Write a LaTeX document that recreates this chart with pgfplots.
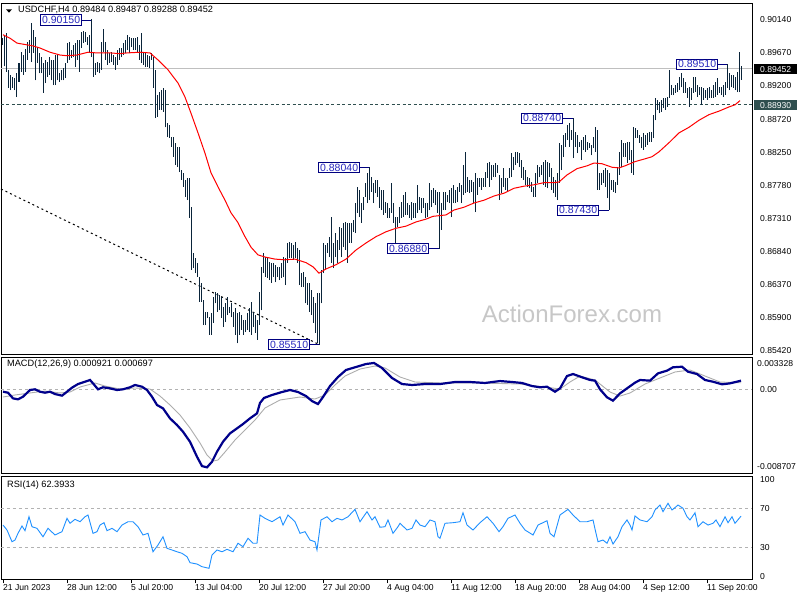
\documentclass[border=0pt]{standalone}
\usepackage{pgfplots}
\usepackage{pgfplotstable}
\usepackage{fontspec}
\setmainfont{Liberation Sans}
\pgfplotsset{compat=1.18}

\definecolor{barc}{RGB}{10,36,58}
\definecolor{lblnavy}{RGB}{0,0,128}
\definecolor{lbltext}{RGB}{40,40,190}
\definecolor{slate}{RGB}{47,79,79}
\definecolor{macdblue}{RGB}{0,0,139}
\definecolor{rsiblue}{RGB}{30,144,255}

% H4 bars: low / high, one row per bar
\pgfplotstableread{
l h
0.8978 0.8988
0.8948 0.8993
0.8940 0.8995
0.8917 0.8943
0.8914 0.8936
0.8917 0.8933
0.8914 0.8931
0.8904 0.8938
0.8926 0.8953
0.8940 0.8968
0.8936 0.8964
0.8940 0.8973
0.8957 0.8983
0.8967 0.8985
0.8954 0.9010
0.8967 0.9000
0.8928 0.8990
0.8953 0.8976
0.8938 0.8967
0.8938 0.8961
0.8910 0.8953
0.8924 0.8957
0.8933 0.8954
0.8936 0.8961
0.8928 0.8957
0.8921 0.8957
0.8921 0.8964
0.8928 0.8964
0.8926 0.8938
0.8928 0.8943
0.8928 0.8946
0.8931 0.8953
0.8953 0.8981
0.8957 0.8983
0.8960 0.8971
0.8961 0.8978
0.8947 0.8981
0.8957 0.8985
0.8940 0.8985
0.8974 0.8997
0.8981 0.8998
0.8983 0.8997
0.8978 0.8990
0.8968 0.8993
0.8961 0.9015
0.8933 0.8968
0.8936 0.8953
0.8940 0.8954
0.8938 0.8953
0.8943 0.8983
0.8968 0.9001
0.8957 0.8983
0.8950 0.8971
0.8953 0.8967
0.8954 0.8968
0.8950 0.8964
0.8943 0.8961
0.8950 0.8971
0.8957 0.8974
0.8961 0.8974
0.8964 0.8981
0.8967 0.8985
0.8971 0.8993
0.8967 0.8990
0.8976 0.8988
0.8971 0.8988
0.8971 0.8988
0.8967 0.8990
0.8957 0.8978
0.8953 0.8995
0.8950 0.8967
0.8947 0.8967
0.8947 0.8964
0.8946 0.8963
0.8957 0.8967
0.8917 0.8961
0.8874 0.8943
0.8876 0.8907
0.8886 0.8911
0.8886 0.8914
0.8883 0.8917
0.8861 0.8914
0.8847 0.8867
0.8846 0.8864
0.8833 0.8847
0.8819 0.8847
0.8807 0.8839
0.8804 0.8833
0.8797 0.8833
0.8786 0.8800
0.8776 0.8796
0.8762 0.8786
0.8757 0.8789
0.8732 0.8789
0.8658 0.8747
0.8660 0.8682
0.8653 0.8675
0.8648 0.8668
0.8612 0.8648
0.8612 0.8639
0.8579 0.8615
0.8579 0.8598
0.8589 0.8598
0.8565 0.8590
0.8565 0.8596
0.8582 0.8619
0.8610 0.8626
0.8598 0.8625
0.8600 0.8622
0.8589 0.8619
0.8576 0.8605
0.8583 0.8610
0.8593 0.8619
0.8596 0.8605
0.8590 0.8610
0.8576 0.8598
0.8565 0.8603
0.8553 0.8596
0.8565 0.8598
0.8572 0.8593
0.8565 0.8586
0.8569 0.8586
0.8572 0.8596
0.8569 0.8603
0.8565 0.8612
0.8576 0.8598
0.8568 0.8593
0.8558 0.8586
0.8579 0.8626
0.8600 0.8662
0.8653 0.8682
0.8648 0.8676
0.8646 0.8675
0.8643 0.8669
0.8639 0.8668
0.8648 0.8668
0.8640 0.8665
0.8648 0.8662
0.8643 0.8662
0.8646 0.8668
0.8648 0.8676
0.8636 0.8675
0.8668 0.8696
0.8675 0.8697
0.8675 0.8696
0.8672 0.8693
0.8675 0.8697
0.8668 0.8689
0.8636 0.8686
0.8633 0.8653
0.8633 0.8655
0.8610 0.8648
0.8608 0.8639
0.8598 0.8639
0.8593 0.8629
0.8582 0.8619
0.8568 0.8610
0.8553 0.8625
0.8551 0.8625
0.8610 0.8658
0.8653 0.8696
0.8658 0.8693
0.8682 0.8696
0.8676 0.8705
0.8668 0.8733
0.8660 0.8696
0.8676 0.8710
0.8668 0.8700
0.8686 0.8719
0.8676 0.8717
0.8690 0.8725
0.8686 0.8726
0.8668 0.8725
0.8696 0.8725
0.8696 0.8725
0.8712 0.8729
0.8710 0.8753
0.8739 0.8776
0.8733 0.8772
0.8725 0.8753
0.8743 0.8762
0.8762 0.8782
0.8753 0.8796
0.8757 0.8804
0.8769 0.8790
0.8753 0.8782
0.8767 0.8786
0.8762 0.8786
0.8746 0.8776
0.8743 0.8772
0.8736 0.8772
0.8739 0.8754
0.8732 0.8753
0.8732 0.8746
0.8739 0.8782
0.8725 0.8753
0.8696 0.8733
0.8719 0.8733
0.8725 0.8747
0.8732 0.8754
0.8733 0.8765
0.8736 0.8769
0.8736 0.8753
0.8732 0.8750
0.8729 0.8754
0.8732 0.8753
0.8732 0.8753
0.8739 0.8779
0.8743 0.8762
0.8739 0.8760
0.8746 0.8760
0.8732 0.8753
0.8733 0.8753
0.8743 0.8782
0.8747 0.8772
0.8753 0.8774
0.8750 0.8772
0.8739 0.8769
0.8688 0.8769
0.8715 0.8753
0.8743 0.8769
0.8743 0.8769
0.8754 0.8765
0.8753 0.8772
0.8733 0.8774
0.8753 0.8779
0.8753 0.8772
0.8754 0.8776
0.8769 0.8782
0.8753 0.8779
0.8765 0.8807
0.8767 0.8826
0.8769 0.8790
0.8767 0.8786
0.8769 0.8786
0.8753 0.8783
0.8740 0.8796
0.8765 0.8789
0.8776 0.8789
0.8772 0.8789
0.8776 0.8789
0.8776 0.8797
0.8789 0.8810
0.8776 0.8812
0.8786 0.8807
0.8790 0.8807
0.8790 0.8810
0.8796 0.8807
0.8757 0.8793
0.8767 0.8789
0.8776 0.8803
0.8772 0.8789
0.8769 0.8789
0.8789 0.8803
0.8790 0.8824
0.8800 0.8819
0.8807 0.8826
0.8810 0.8826
0.8804 0.8824
0.8789 0.8814
0.8786 0.8804
0.8779 0.8800
0.8776 0.8790
0.8774 0.8789
0.8769 0.8783
0.8762 0.8776
0.8762 0.8796
0.8782 0.8807
0.8790 0.8804
0.8793 0.8807
0.8779 0.8812
0.8776 0.8814
0.8774 0.8812
0.8790 0.8810
0.8772 0.8803
0.8767 0.8790
0.8762 0.8786
0.8757 0.8796
0.8782 0.8839
0.8800 0.8836
0.8819 0.8850
0.8833 0.8853
0.8843 0.8864
0.8833 0.8867
0.8843 0.8857
0.8817 0.8874
0.8833 0.8854
0.8824 0.8850
0.8833 0.8840
0.8814 0.8843
0.8829 0.8847
0.8826 0.8850
0.8829 0.8840
0.8831 0.8839
0.8821 0.8836
0.8831 0.8847
0.8826 0.8861
0.8772 0.8857
0.8772 0.8796
0.8779 0.8796
0.8782 0.8800
0.8776 0.8803
0.8760 0.8800
0.8743 0.8796
0.8772 0.8786
0.8769 0.8786
0.8767 0.8783
0.8779 0.8804
0.8793 0.8826
0.8804 0.8843
0.8819 0.8839
0.8819 0.8839
0.8810 0.8840
0.8814 0.8840
0.8796 0.8829
0.8793 0.8861
0.8846 0.8860
0.8846 0.8857
0.8839 0.8850
0.8831 0.8847
0.8829 0.8853
0.8833 0.8850
0.8836 0.8853
0.8840 0.8854
0.8840 0.8854
0.8846 0.8879
0.8871 0.8903
0.8886 0.8900
0.8881 0.8897
0.8883 0.8900
0.8889 0.8903
0.8886 0.8903
0.8890 0.8904
0.8903 0.8943
0.8907 0.8921
0.8907 0.8917
0.8910 0.8921
0.8911 0.8924
0.8914 0.8933
0.8918 0.8938
0.8910 0.8931
0.8910 0.8926
0.8903 0.8917
0.8890 0.8918
0.8900 0.8917
0.8910 0.8933
0.8911 0.8933
0.8904 0.8921
0.8907 0.8918
0.8893 0.8918
0.8900 0.8917
0.8903 0.8914
0.8900 0.8917
0.8903 0.8918
0.8903 0.8914
0.8903 0.8921
0.8904 0.8926
0.8907 0.8931
0.8910 0.8918
0.8907 0.8918
0.8904 0.8921
0.8907 0.8926
0.8917 0.8951
0.8914 0.8938
0.8918 0.8936
0.8917 0.8936
0.8914 0.8933
0.8911 0.8940
0.8911 0.8968
0.8929 0.8949
}\bars

\pgfplotsset{
  mtpanel/.style={
    scale only axis, width=751pt,
    xmin=-1, xmax=374.5,
    scaled ticks=false,
    axis line style={line width=0.9pt},
    ytick pos=right, yticklabel pos=right,
    ytick style={draw=none},
    tick align=outside, major tick length=4pt,
    tick label style={font=\fontsize{8.6}{10}\selectfont},
    yticklabel style={anchor=west, inner sep=1pt, xshift=3pt},
  },
}
\tikzset{
  lbl/.style={draw=lblnavy, fill=white, text=lbltext, line width=0.8pt,
    inner xsep=1.5pt, inner ysep=1.3pt, anchor=east,
    font=\fontsize{10.5}{11}\selectfont, text height=7.6pt, text depth=0pt},
  tag/.style={anchor=west, inner xsep=1pt, inner ysep=1.6pt, minimum width=43pt,
    font=\fontsize{8.6}{10}\selectfont, text height=6.3pt, text depth=0pt, text=white},
  ttl/.style={anchor=west, inner sep=0pt, font=\fontsize{9.2}{10}\selectfont},
}

\begin{document}
\begin{tikzpicture}
\useasboundingbox (0,0) rectangle (800pt,600pt);
\fill[white] (0,0) rectangle (800pt,600pt);

% ---------------- price panel ----------------
\begin{axis}[mtpanel, at={(1pt,597pt)}, anchor=north west, height=351pt,
  ymin=0.85377, ymax=0.90382, xtick=\empty,
  ytick={0.8542,0.8590,0.8637,0.8684,0.8731,0.8778,0.8825,0.8872,0.8920,0.8967,0.9014},
  yticklabels={0.85420,0.85900,0.86370,0.86840,0.87310,0.87780,0.88250,0.88720,0.89200,0.89670,0.90140},
]
\node[text=black!22, font=\fontsize{24}{24}\selectfont] at (axis cs:284.5,0.8595) {ActionForex.com};
\addplot[black!25, line width=1pt] coordinates {(-1,0.89452)(374.5,0.89452)};
\addplot[slate, line width=1pt, dash pattern=on 3pt off 2.5pt] coordinates {(-1,0.8893)(374.5,0.8893)};
\addplot[black, line width=1pt, dash pattern=on 2pt off 3pt] coordinates {(-1,0.8773)(157.5,0.8552)};

\addplot[draw=none, mark=none,
  error bars/.cd, y dir=plus, y explicit, error mark=none,
  error bar style={solid, draw=barc, line width=1pt}]
  table[x expr=\coordindex, y=l, y error plus expr=\thisrow{h}-\thisrow{l}] {\bars};

\addplot[red, line width=1pt] coordinates {
(0,0.8993)(3.5,0.8988)(7,0.8981)(15,0.8977)(18.5,0.8974)(23.5,0.8968)(28.5,0.8964)(32,0.8963)
(37,0.8964)(42.5,0.8968)(47,0.8967)(53.5,0.8967)(58.5,0.8966)(62,0.8967)(68.5,0.8968)(73.5,0.8967)
(77.5,0.8957)(82.5,0.8943)(87.5,0.8924)(91,0.8904)(94,0.8881)(97.5,0.8853)(101,0.8824)(104,0.8796)
(107.5,0.8776)(111,0.8757)(114,0.8739)(117.5,0.8725)(121,0.8705)(124,0.8690)(127.5,0.8679)(131,0.8676)
(136,0.8673)(141,0.8672)(146,0.8673)(151.5,0.8668)(155,0.8662)(158,0.8653)(161.5,0.8659)(166.5,0.8665)
(171.5,0.8673)(176.5,0.8686)(181.5,0.8696)(186.5,0.8705)(191.5,0.8712)(196.5,0.8717)(201.5,0.8720)
(206.5,0.8726)(211.5,0.8730)(215,0.8734)(221.5,0.8736)(225.5,0.8743)(230.5,0.8747)(235.5,0.8753)
(240.5,0.8757)(245.5,0.8763)(250.5,0.8767)(255.5,0.8774)(260.5,0.8777)(265.5,0.8779)(270.5,0.8782)
(275.5,0.8782)(278,0.8783)(282,0.8793)(287,0.8802)(292,0.8806)(295.5,0.8810)(299.5,0.8809)
(304.5,0.8804)(308,0.8803)(311,0.8806)(316,0.8812)(321,0.8816)(324.5,0.8819)(328,0.8826)(333,0.8839)
(338,0.8853)(343,0.8861)(348,0.8871)(353,0.8879)(358,0.8884)(363,0.8890)(366,0.8893)(368.5,0.8899)};

% swing labels
\node[lbl] at (axis cs:39.5,0.9014) {0.90150};
\draw[lblnavy, line width=0.8pt] (axis cs:39.5,0.9014) -- (axis cs:44,0.9014);
\node[lbl] at (axis cs:153.5,0.8551) {0.85510};
\draw[lblnavy, line width=0.8pt] (axis cs:153.5,0.8551) -- (axis cs:158,0.8551);
\node[lbl] at (axis cs:178.5,0.8804) {0.88040};
\draw[lblnavy, line width=0.8pt] (axis cs:178.5,0.8804) -- (axis cs:183,0.8804);
\node[lbl] at (axis cs:213,0.8688) {0.86880};
\draw[lblnavy, line width=0.8pt] (axis cs:213,0.8688) -- (axis cs:218,0.8688);
\node[lbl] at (axis cs:280,0.8874) {0.88740};
\draw[lblnavy, line width=0.8pt] (axis cs:280,0.8874) -- (axis cs:285,0.8874);
\node[lbl] at (axis cs:298,0.8743) {0.87430};
\draw[lblnavy, line width=0.8pt] (axis cs:298,0.8743) -- (axis cs:303,0.8743);
\node[lbl] at (axis cs:357.5,0.8951) {0.89510};
\draw[lblnavy, line width=0.8pt] (axis cs:357.5,0.8951) -- (axis cs:362,0.8951);
\end{axis}

% ---------------- MACD panel ----------------
\begin{axis}[mtpanel, at={(1pt,243pt)}, anchor=north west, height=116pt,
  ymin=-0.00868, ymax=0.00338, xtick=\empty, ytick={0}, yticklabels={0.00}]
\addplot[black!30, line width=0.8pt, dash pattern=on 3pt off 3pt] coordinates {(-1,0)(374.5,0)};
\addplot[black!32, line width=0.9pt] coordinates {
(0,-0.00078)(6,-0.00057)(13.5,-0.00036)(21,-0.00016)(28.5,-0.00036)(33.5,-0.00026)(38.5,0.00026)
(46,0.00068)(51,0.00036)(58.5,0.00005)(66,0.00016)(73.5,0.00005)(78.5,-0.00068)(83.5,-0.00161)
(88.5,-0.00265)(93.5,-0.00400)(98.5,-0.00556)(102,-0.00681)(105,-0.00744)(107.5,-0.00733)(111,-0.00650)
(116,-0.00525)(121,-0.00421)(126,-0.00317)(131,-0.00192)(138.5,-0.00109)(148.5,-0.00078)(156,-0.00099)
(161,-0.00057)(166,0.00047)(171,0.00140)(178.5,0.00213)(186,0.00244)(191,0.00224)(198.5,0.00130)
(206,0.00078)(218.5,0.00068)(238.5,0.00068)(258.5,0.00057)(271,0.00026)(278.5,0.00005)(283.5,0.00078)
(288.5,0.00140)(296,0.00099)(303.5,-0.00026)(308.5,-0.00068)(313.5,-0.00036)(321,0.00057)(328.5,0.00120)
(336,0.00182)(343.5,0.00203)(351,0.00140)(358.5,0.00078)(369,0.00070)};
\addplot[macdblue, line width=2.2pt] coordinates {
(0,-0.00023)(2.5,-0.00033)(5,-0.00092)(7.5,-0.00102)(10,-0.00075)(13.5,-0.00005)(16,0.00002)
(18.5,-0.00023)(21,-0.00033)(23.5,-0.00023)(26,-0.00047)(29.5,-0.00064)(32,-0.00023)(34.5,0.00019)
(37.5,0.00057)(41,0.00081)(43.5,0.00099)(45,0.00064)(47.5,0.00002)(50,0.00023)(53.5,0.00012)
(57,-0.00005)(60,0.00002)(63.5,0.00023)(66,0.00047)(69.5,0.00029)(72,-0.00005)(74.5,-0.00075)
(77,-0.00161)(80,-0.00196)(83.5,-0.00300)(87,-0.00369)(90,-0.00439)(93.5,-0.00543)(97,-0.00699)
(99.5,-0.00796)(102,-0.00809)(104.5,-0.00751)(107,-0.00647)(110,-0.00543)(113.5,-0.00456)
(117,-0.00404)(120,-0.00359)(123.5,-0.00300)(127,-0.00248)(128.5,-0.00140)(130.5,-0.00088)
(134.5,-0.00057)(139.5,-0.00026)(143.5,-0.00005)(147.5,-0.00026)(151.5,-0.00068)(154.5,-0.00120)
(157.5,-0.00151)(160,-0.00078)(163.5,0.00036)(167.5,0.00130)(171.5,0.00203)(176.5,0.00234)
(181.5,0.00265)(185.5,0.00276)(189.5,0.00224)(194.5,0.00120)(199.5,0.00057)(204.5,0.00047)
(211,0.00057)(218.5,0.00057)(226,0.00078)(233.5,0.00078)(241,0.00068)(248.5,0.00088)(254.5,0.00078)
(259.5,0.00068)(264.5,0.00036)(268.5,0.00023)(272,0.00029)(276,-0.00023)(278.5,0.00012)(282,0.00140)
(285,0.00161)(289.5,0.00127)(293.5,0.00099)(296,0.00092)(298.5,0.00002)(302,-0.00081)(305,-0.00116)
(308.5,-0.00040)(312,0.00012)(316,0.00071)(318.5,0.00099)(323.5,0.00092)(327.5,0.00168)(332,0.00196)
(335,0.00231)(339.5,0.00237)(342.5,0.00185)(347,0.00161)(351,0.00099)(355,0.00081)(359.5,0.00054)
(363.5,0.00064)(369,0.00092)};
\end{axis}

% ---------------- RSI panel ----------------
\begin{axis}[mtpanel, at={(1pt,124pt)}, anchor=north west, height=103pt,
  ymin=-2.05, ymax=103.6,
  ytick={0,30,70,100}, yticklabels={0,30,70,100},
  xtick={0,32,64,96,128,160,192,224,256,288,320,352},
  xticklabels={21 Jun 2023,28 Jun 12:00,5 Jul 20:00,13 Jul 04:00,20 Jul 12:00,27 Jul 20:00,
    4 Aug 04:00,11 Aug 12:00,18 Aug 20:00,28 Aug 04:00,4 Sep 12:00,11 Sep 20:00},
  xtick pos=lower, xtick style={draw=black, line width=0.8pt},
  xticklabel style={anchor=north west, inner sep=1pt, xshift=-1pt},
]
\addplot[black!30, line width=0.8pt, dash pattern=on 3pt off 3pt] coordinates {(-1,70)(374.5,70)};
\addplot[black!30, line width=0.8pt, dash pattern=on 3pt off 3pt] coordinates {(-1,30)(374.5,30)};
\addplot[rsiblue, line width=0.9pt] coordinates {
(0,53.3)(2,48.2)(4.5,36.2)(6,37.9)(7.5,44.8)(9.5,52.3)(11,47.5)(13,61.8)(14.5,51.6)(17,49.9)
(20,41.3)(22.5,49.9)(26,43.1)(29.5,46.5)(32,60.2)(33.5,55.1)(36,59.2)(38.5,56.7)(41,61.8)(42.5,63.6)
(45,44.8)(47,46.5)(48.5,53.3)(50.5,55.7)(52,47.5)(54.5,49.9)(57,46.5)(59.5,53.3)(62.5,56.7)(65,56.7)
(67.5,51.6)(70,43.1)(72.5,44.8)(75,25.9)(77.5,32.8)(80,41.3)(82,29.4)(84.5,27.7)(87,25.9)(89.5,24.3)
(92,20.8)(93.5,14.7)(97,13.3)(99.5,10.6)(103,8.9)(104.5,22.6)(107,27.7)(109.5,25.9)(112,28.4)(115,25.9)
(117.5,34.6)(120,31.1)(122.5,39.7)(125,34.6)(127,34.6)(128.5,63.6)(131,60.2)(134.5,56.7)(138.5,61.8)
(140,53.3)(142.5,63.6)(146,56.7)(148.5,44.8)(151,46.5)(153.5,37.9)(156,36.2)(157,27.7)(159,58.5)
(162,61.8)(164.5,56.7)(167,60.2)(169.5,58.5)(172.5,61.8)(176,69.4)(178.5,56.7)(182,67.0)(184.5,58.5)
(186,61.8)(188.5,51.0)(191,51.6)(192.5,58.5)(195,44.8)(197.5,51.6)(198.5,55.1)(202,48.2)(204.5,49.9)
(206.5,58.5)(208.5,53.3)(211,51.6)(213.5,58.5)(216,56.7)(217.5,41.3)(218.5,39.7)(221,55.1)(225,55.7)
(228.5,56.7)(230,65.9)(232,53.3)(235,48.2)(238.5,55.7)(242,61.8)(245,55.1)(248,46.5)(250,51.6)
(252.5,60.2)(256,63.6)(258.5,55.1)(261,48.2)(265,43.1)(267.5,53.3)(272,57.7)(273.5,44.8)(275.5,41.3)
(278.5,63.6)(282.5,69.4)(285,63.6)(288.5,56.7)(292,56.7)(295,58.5)(296.5,44.8)(297.5,36.2)(300,37.9)
(302,34.6)(303.5,41.3)(305,33.8)(307.5,41.3)(309.5,51.6)(312,58.5)(313.5,53.3)(314.5,48.2)(316,62.6)
(318.5,58.5)(322,56.7)(324.5,61.8)(326,68.7)(328.5,73.8)(330,67.0)(332.5,75.6)(334.5,68.7)(337.5,73.8)
(340,70.5)(342,61.8)(343.5,58.5)(346,65.9)(347.5,51.6)(350,56.7)(352.5,53.3)(355,55.1)(356.5,58.5)
(358.5,51.6)(361,61.8)(362.5,55.7)(364.5,61.8)(366,55.1)(369,62.39)};
\end{axis}

% ---------------- panel captions and price tags ----------------
\fill (6pt,590.7pt) -- (12pt,590.7pt) -- (9pt,587.3pt) -- cycle;
\node[ttl] at (18pt,590pt) {USDCHF,H4 0.89484 0.89487 0.89288 0.89452};
\node[ttl] at (7pt,236pt) {MACD(12,26,9) 0.000921 0.000697};
\node[ttl] at (7pt,115pt) {RSI(14) 62.3933};
\node[anchor=west, inner sep=0pt, font=\fontsize{8.6}{10}\selectfont] at (757pt,236pt) {0.003328};
\node[anchor=west, inner sep=0pt, font=\fontsize{8.6}{10}\selectfont] at (757pt,133pt) {-0.008707};
\node[tag, fill=black] at (754pt,531pt) {0.89452};
\node[tag, fill=slate] at (754pt,495pt) {0.88930};
\end{tikzpicture}
\end{document}
